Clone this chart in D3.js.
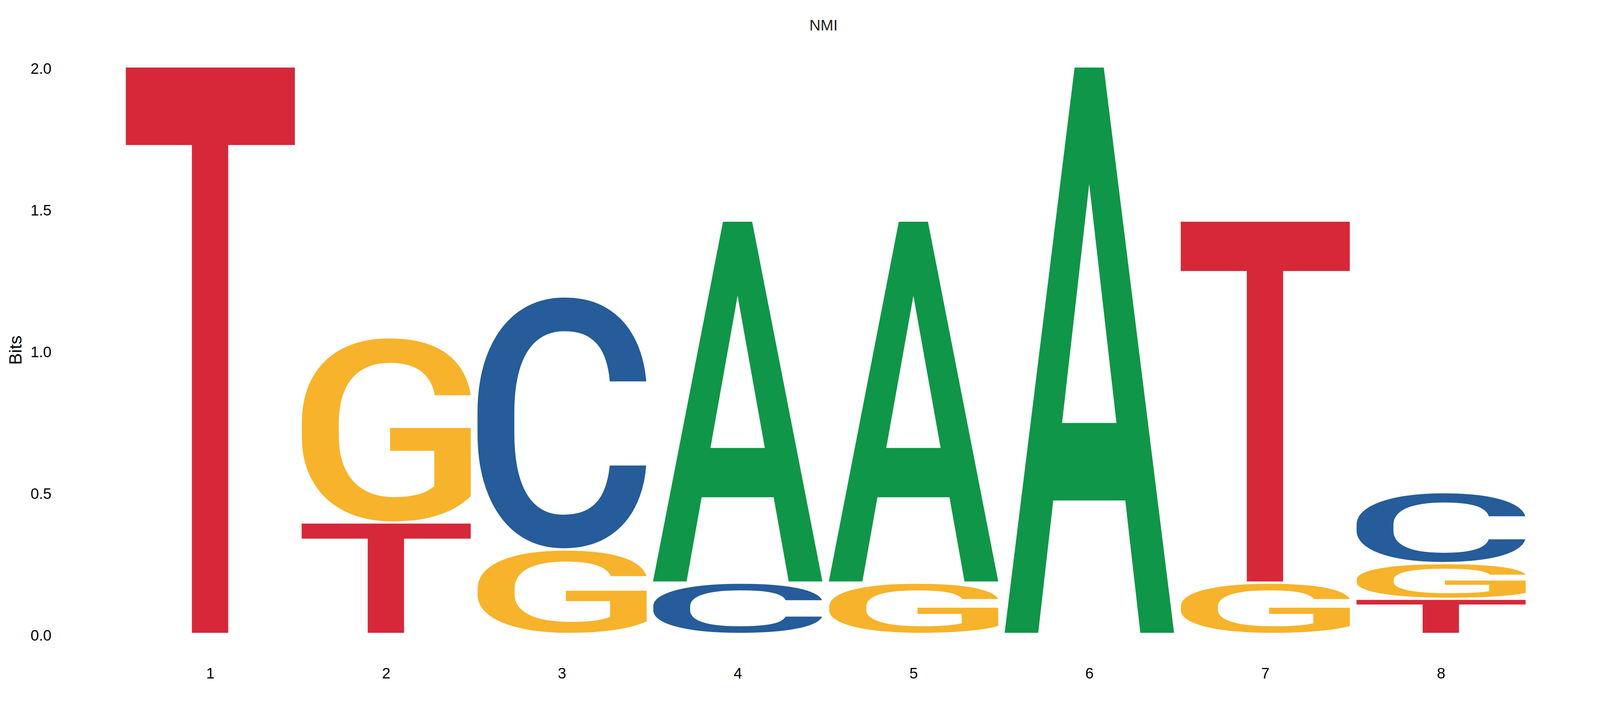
<!DOCTYPE html>
<html>
<head>
<meta charset="utf-8">
<script src="https://cdn.jsdelivr.net/npm/d3@7/dist/d3.min.js"></script>
<style>
  html, body { margin: 0; padding: 0; background: #fff; overflow: hidden; }
  svg { display: block; }
</style>
</head>
<body>
<svg id="chart"></svg>
<script>
// sequence logo data (bits per letter, per position)
const positions = [1, 2, 3, 4, 5, 6, 7, 8];
const bitsA = [0, 0, 0, 1.276, 1.276, 2.0, 0, 0];
const bitsC = [0, 0, 0.892, 0.181, 0, 0, 0, 0.250];
const bitsG = [0, 0.653, 0.298, 0, 0.181, 0, 0.181, 0.126];
const bitsT = [2.0, 0.393, 0, 0, 0, 0, 1.276, 0.124];
const yTicks = [0, 0.5, 1.0, 1.5, 2.0];
const colours = { A: "#109648", C: "#255C99", G: "#F7B32B", T: "#D62839" };
const chartTitle = "NMI";
const yTitle = "Bits";

// layout is given for a 4350 x 1829 page and stretched to the real window
const W = window.innerWidth || 4350, H = window.innerHeight || 1829;
const kx = W / 4350, ky = H / 1829, kf = Math.min(kx, ky);
const labelFont = '"Liberation Sans", Arial, sans-serif';
const glyphFamily = 'Roboto';
const glyphWeight = 500;

const svg = d3.select("#chart").attr("width", W).attr("height", H);
svg.append("rect").attr("width", W).attr("height", H).attr("fill", "#fff");

const x = d3.scaleBand()
  .domain(positions)
  .range([333 * kx, 4157 * kx])
  .paddingInner(0.04)
  .paddingOuter(0.02);

const y = d3.scaleLinear().domain([0, 2]).range([1621 * ky, 169 * ky]);

const gapPx = 6 * ky;

// ink box of each glyph: draw it on a canvas and scan the pixels
const glyphSize = 400;
function ink(ch) {
  const c = document.createElement("canvas");
  c.width = glyphSize * 2; c.height = glyphSize * 2;
  const g = c.getContext("2d");
  g.font = `${glyphWeight} ${glyphSize}px ${glyphFamily}`;
  g.fillStyle = "#000";
  g.textBaseline = "alphabetic";
  const ox = glyphSize * 0.5, oy = glyphSize * 1.5;
  g.fillText(ch, ox, oy);
  const px = g.getImageData(0, 0, c.width, c.height).data;
  let x0 = c.width, x1 = -1, y0 = c.height, y1 = -1;
  for (let j = 0; j < c.height; j++) {
    for (let i = 0; i < c.width; i++) {
      if (px[(j * c.width + i) * 4 + 3] > 127) {
        if (i < x0) x0 = i; if (i > x1) x1 = i;
        if (j < y0) y0 = j; if (j > y1) y1 = j;
      }
    }
  }
  return { l: ox - x0, r: x1 + 1 - ox, a: oy - y0, d: y1 + 1 - oy };
}
const inkBox = {};
Object.keys(colours).forEach(k => inkBox[k] = ink(k));

// stack letters: smallest at the bottom
const stacks = [];
positions.forEach((p, i) => {
  const col = [
    { base: "A", v: bitsA[i] }, { base: "C", v: bitsC[i] },
    { base: "G", v: bitsG[i] }, { base: "T", v: bitsT[i] }
  ].filter(d => d.v > 0).sort((a, b) => a.v - b.v);
  let floor = 0;
  col.forEach(d => {
    stacks.push({ pos: p, base: d.base, y0: floor, y1: floor + d.v });
    floor += d.v;
  });
});

svg.append("g").attr("class", "letters")
  .selectAll("text")
  .data(stacks)
  .join("text")
  .text(d => d.base)
  .style("font-family", glyphFamily)
  .style("font-size", glyphSize + "px")
  .style("font-weight", glyphWeight)
  .attr("fill", d => colours[d.base])
  .attr("transform", d => {
    const b = inkBox[d.base];
    const w = x.bandwidth();
    const top = y(d.y1) + gapPx;
    const h = y(d.y0) - top;
    const sx = w / (b.l + b.r), sy = h / (b.a + b.d);
    return `translate(${x(d.pos)},${top}) scale(${sx},${sy}) translate(${b.l},${b.a})`;
  });

// y axis (labels only)
const yAxis = svg.append("g")
  .attr("transform", `translate(${140 * kx},0)`)
  .call(d3.axisLeft(y).tickValues(yTicks).tickFormat(d3.format(".1f")).tickSize(0).tickPadding(0));
yAxis.select(".domain").remove();
yAxis.selectAll("text")
  .style("font-family", labelFont)
  .style("font-size", 41 * kf + "px")
  .attr("fill", "#000")
  .attr("dy", "0.5em");

// x axis (labels only)
const xAxis = svg.append("g")
  .attr("transform", `translate(0,${1711 * ky})`)
  .call(d3.axisBottom(x).tickSize(0).tickPadding(0));
xAxis.select(".domain").remove();
xAxis.selectAll("text")
  .style("font-family", labelFont)
  .style("font-size", 41 * kf + "px")
  .attr("fill", "#000");

svg.append("text")
  .attr("transform", `translate(${42 * kx},${897 * ky}) rotate(-90)`)
  .attr("text-anchor", "middle")
  .attr("dominant-baseline", "central")
  .style("font-family", labelFont)
  .style("font-size", 48 * kf + "px")
  .attr("fill", "#000")
  .text(yTitle);

svg.append("text")
  .attr("x", 2239 * kx)
  .attr("y", 78 * ky)
  .attr("text-anchor", "middle")
  .style("font-family", labelFont)
  .style("font-size", 42 * kf + "px")
  .attr("fill", "#222")
  .text(chartTitle);
</script>
</body>
</html>
